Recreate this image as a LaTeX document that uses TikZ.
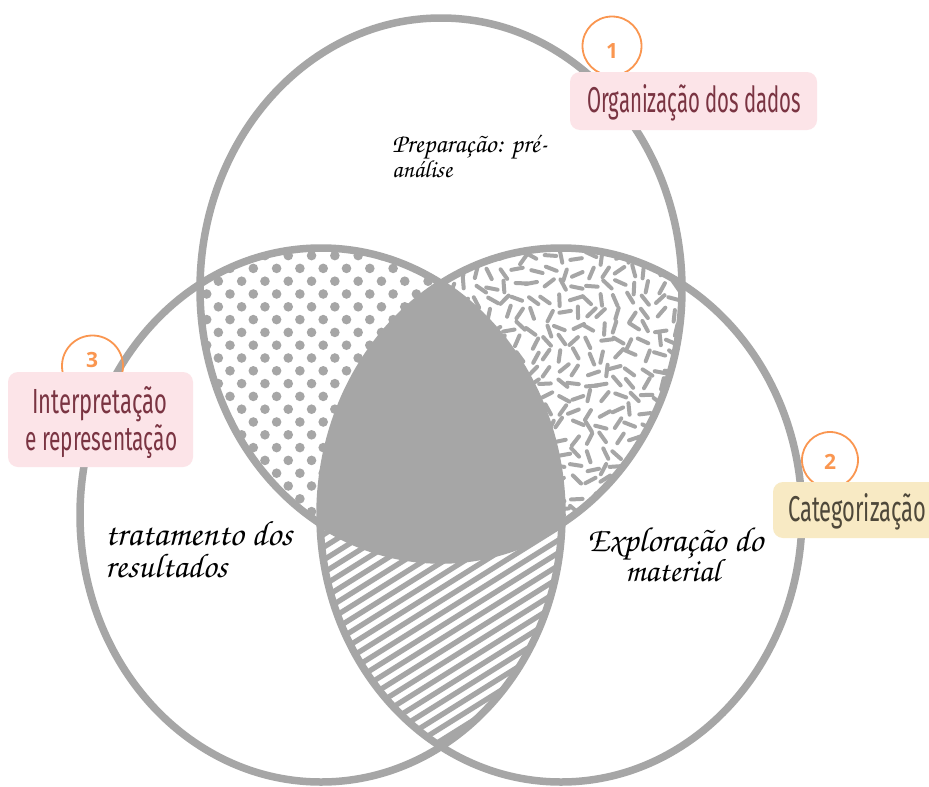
\documentclass[tikz,border=0pt]{standalone}
\usepackage{fontspec}
\usepackage{graphicx}
\setmainfont{Fira Sans}
\newfontfamily\chorus{TeX Gyre Chorus}
\newfontfamily\numfont{Open Sans}
\definecolor{vgray}{RGB}{166,166,166}
\definecolor{vorange}{RGB}{250,150,80}
\definecolor{pinkbox}{RGB}{252,228,232}
\definecolor{pinktext}{RGB}{122,52,66}
\definecolor{yelbox}{RGB}{248,234,196}
\definecolor{yeltext}{RGB}{78,72,58}
\newcommand\fitlab[3]{\resizebox{#1}{#2}{\fontsize{20}{20}\selectfont #3}}
\newcommand\fithand[2]{\resizebox{#1}{!}{\chorus\fontsize{20}{20}\selectfont #2}}
\tikzset{
  ring/.style={draw=vgray, line width=7.5pt},
  numring/.style={draw=vorange, line width=1.8pt, circle, inner sep=0},
  numtxt/.style={text=vorange, font=\numfont\bfseries\fontsize{21}{21}\selectfont, inner sep=0},
  pinklab/.style={fill=pinkbox, rounded corners=10pt, inner sep=0},
  yellab/.style={fill=yelbox, rounded corners=10pt, inner sep=0},
  hand/.style={inner sep=0, anchor=base west, text=black},
  labtxt/.style={inner sep=0, anchor=base west},
  dotsty/.style={fill=vgray},
  dashsty/.style={draw=vgray, line width=4pt, line cap=round},
  hatchsty/.style={draw=vgray, line width=5.3pt},
}
\begin{document}
\begin{tikzpicture}[x=1pt, y=-1pt]
\fill[white] (0,0) rectangle (929,787);
\useasboundingbox (0,0) rectangle (929,787);
\coordinate (T) at (441,289);
\coordinate (L) at (321,515);
\coordinate (R) at (561,515);
% dotted region: top & left
\begin{scope}
  \clip (T) ellipse [x radius=241pt, y radius=271pt];
  \clip (L) ellipse [x radius=241pt, y radius=267pt];
  \foreach \m in {0,...,26} {
    \foreach \k in {-3,...,10} {
      \pgfmathsetmacro\xx{253.3+23.3*\k-11.65*mod(\m,2)}
      \pgfmathsetmacro\yy{242.8+12.8*\m}
      \fill[dotsty] (\xx,\yy) circle [radius=4.8pt];
    }
  }
\end{scope}
% dashed region: top & right
\pgfmathsetseed{4242}
\begin{scope}
  \clip (T) ellipse [x radius=241pt, y radius=271pt];
  \clip (R) ellipse [x radius=241pt, y radius=267pt];
  \foreach \i in {0,...,19} {
    \foreach \j in {0,...,21} {
      \pgfmathsetmacro\px{436+\i*14+rand*3.5}
      \pgfmathsetmacro\py{244+\j*14+rand*3.5}
      \pgfmathsetmacro\ang{rnd*180}
      \draw[dashsty, rotate around={\ang:(\px,\py)}] (\px-5.8,\py) -- (\px+5.8,\py);
    }
  }
\end{scope}
% hatched region: left & right
\begin{scope}
  \clip (L) ellipse [x radius=241pt, y radius=267pt];
  \clip (R) ellipse [x radius=241pt, y radius=267pt];
  \foreach \c in {470,482.7,...,1045} {
    \draw[hatchsty] (290,\c-181.2) -- (590,\c-368.7);
  }
\end{scope}
% centre region
\begin{scope}
  \clip (T) ellipse [x radius=241pt, y radius=271pt];
  \clip (L) ellipse [x radius=241pt, y radius=267pt];
  \fill[vgray] (R) ellipse [x radius=241pt, y radius=267pt];
\end{scope}
% rings
\draw[ring] (T) ellipse [x radius=241pt, y radius=271pt];
\draw[ring] (L) ellipse [x radius=241pt, y radius=267pt];
\draw[ring] (R) ellipse [x radius=241pt, y radius=267pt];
% handwritten texts
\node[hand] (p1) at (392,152) {\fithand{155pt}{Preparação: pré-}};
\node[hand] (p2) at (392,177) {\fithand{60pt}{análise}};
\node[hand] (t1) at (105,545) {\fithand{187pt}{tratamento dos}};
\node[hand] (t2) at (105,577) {\fithand{122pt}{resultados}};
\node[hand, anchor=base] (e1) at (675,551) {\fithand{176pt}{Exploração do}};
\node[hand, anchor=base] (e2) at (672.5,581) {\fithand{95pt}{material}};
% number rings
\node[numring, minimum size=59pt] (n1) at (612,46) {};
\node[numtxt] (d1) at (612,51) {1};
\node[numring, minimum size=56pt] (n2) at (830,460) {};
\node[numtxt] (d2) at (830,462) {2};
\node[numring, minimum size=61pt] (n3) at (92.5,366) {};
\node[numtxt] (d3) at (92,359.5) {3};
% label boxes
\node[pinklab, minimum width=247pt, minimum height=58pt] (b1) at (693.5,101) {};
\node[yellab, minimum width=170pt, minimum height=56pt] (b2) at (858,510) {};
\node[pinklab, minimum width=185pt, minimum height=95pt] (b3) at (100.5,419.5) {};
\node[labtxt, text=pinktext] (l1) at (587,112) {\fitlab{214pt}{28pt}{Organização dos dados}};
\node[labtxt, text=yeltext] (l2) at (788,521) {\fitlab{138pt}{28pt}{Categorização}};
\node[labtxt, text=pinktext] (l3a) at (32,413) {\fitlab{135pt}{27pt}{Interpretação}};
\node[labtxt, text=pinktext] (l3b) at (25,450) {\fitlab{152pt}{26pt}{e representação}};
\end{tikzpicture}
\end{document}
